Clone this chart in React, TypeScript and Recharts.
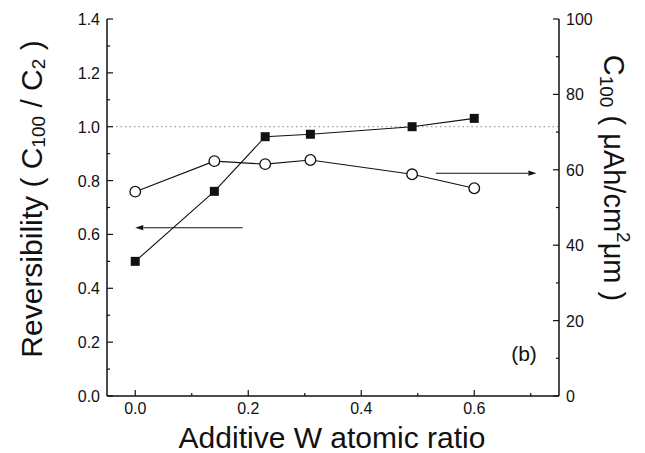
import { ComposedChart, Line, XAxis, YAxis, ReferenceLine, Label } from "recharts"

// values (b)
const W_RATIO = [0.0, 0.14, 0.23, 0.31, 0.49, 0.6]
const REVERSIBILITY = [0.5, 0.76, 0.963, 0.972, 1.0, 1.031]
const C100 = [54.2, 62.3, 61.5, 62.6, 58.8, 55.1]

const X_TICKS = [0, 0.1, 0.2, 0.3, 0.4, 0.5, 0.6, 0.7]
const LEFT_TICKS = [0, 0.1, 0.2, 0.3, 0.4, 0.5, 0.6, 0.7, 0.8, 0.9, 1.0, 1.1, 1.2, 1.3, 1.4]
const RIGHT_TICKS = [0, 10, 20, 30, 40, 50, 60, 70, 80, 90, 100]

// arrows pointing at the axis each series belongs to
const LEFT_ARROW = [
  { x: 0.19, y: 0.625 },
  { x: 0.0, y: 0.625 },
]
const RIGHT_ARROW = [
  { x: 0.532, y: 59.1 },
  { x: 0.71, y: 59.1 },
]

const DATA = W_RATIO.map((x, i) => ({ x, rev: REVERSIBILITY[i], cap: C100[i] }))

const INK = "#111"
const FONT = "'Liberation Sans', Arial, Helvetica, sans-serif"
const TICK_TEXT = { fontFamily: FONT, fontSize: 16, fill: INK }
const TITLE = 30
const SUB = 19

const isMajor = (v: number, step: number) =>
  Math.abs(v / step - Math.round(v / step)) < 1e-6

function xTick(labels: boolean, dir: 1 | -1) {
  return (p: any) => {
    const v = p.payload.value
    const major = isMajor(v, 0.2)
    return (
      <g>
        <line x1={p.x} y1={p.y} x2={p.x} y2={p.y - dir * (major ? 6 : 3)} stroke={INK} strokeWidth={1.2} />
        {labels && major && (
          <text x={p.x} y={p.y + 18} textAnchor="middle" {...TICK_TEXT}>
            {v.toFixed(1)}
          </text>
        )}
      </g>
    )
  }
}

const leftTick = (p: any) => {
  const v = p.payload.value
  const major = isMajor(v, 0.2)
  return (
    <g>
      <line x1={p.x} y1={p.y} x2={p.x + (major ? 6 : 3)} y2={p.y} stroke={INK} strokeWidth={1.2} />
      {major && (
        <text x={p.x - 7} y={p.y + 6} textAnchor="end" {...TICK_TEXT}>
          {v.toFixed(1)}
        </text>
      )}
    </g>
  )
}

const rightTick = (p: any) => {
  const v = p.payload.value
  const major = isMajor(v, 20)
  return (
    <g>
      <line x1={p.x} y1={p.y} x2={p.x - (major ? 6 : 3)} y2={p.y} stroke={INK} strokeWidth={1.2} />
      {major && (
        <text x={p.x + 7} y={p.y + 6} textAnchor="start" {...TICK_TEXT}>
          {v}
        </text>
      )}
    </g>
  )
}

const squareDot = (p: any) => (
  <rect key={`sq-${p.index}`} x={p.cx - 4.5} y={p.cy - 4.5} width={9} height={9} fill={INK} />
)

const arrowShape = (p: any) => {
  const { x1, y1, x2, y2 } = p
  const a = Math.atan2(y2 - y1, x2 - x1)
  const L = 8
  const W = 2.6
  const bx = x2 - L * Math.cos(a)
  const by = y2 - L * Math.sin(a)
  const pts = `${x2},${y2} ${bx + W * Math.sin(a)},${by - W * Math.cos(a)} ${bx - W * Math.sin(a)},${by + W * Math.cos(a)}`
  return (
    <g>
      <line x1={x1} y1={y1} x2={bx} y2={by} stroke={INK} strokeWidth={1.1} />
      <polygon points={pts} fill={INK} />
    </g>
  )
}

const leftTitle = () => (
  <text
    transform="translate(31,199) rotate(-90)"
    textAnchor="middle"
    dominantBaseline="central"
    fontFamily={FONT}
    fontSize={TITLE}
    fill={INK}
  >
    Reversibility ( C
    <tspan fontSize={SUB} dy={7}>100</tspan>
    <tspan dy={-7}> / C</tspan>
    <tspan fontSize={SUB} dy={7}>2</tspan>
    <tspan dy={-7}> )</tspan>
  </text>
)

const rightTitle = () => (
  <text
    transform="translate(614,178) rotate(90)"
    textAnchor="middle"
    dominantBaseline="central"
    fontFamily={FONT}
    fontSize={TITLE - 1}
    fill={INK}
  >
    C
    <tspan fontSize={SUB} dy={7}>100</tspan>
    <tspan dy={-7}> ( μAh/cm</tspan>
    <tspan fontSize={SUB} dy={-10}>2</tspan>
    <tspan dy={10}>μm )</tspan>
  </text>
)

const panelTag = () => (
  <text x={524} y={361} textAnchor="middle" fontFamily={FONT} fontSize={21} fill={INK}>
    (b)
  </text>
)

const bottomTitle = () => (
  <text x={332} y={448} textAnchor="middle" fontFamily={FONT} fontSize={TITLE} fill={INK}>
    Additive W atomic ratio
  </text>
)

export default function App() {
  return (
    <div style={{ position: "absolute", left: 0, top: 0, width: 645, height: 453, background: "#fff" }}>
      <ComposedChart
        width={645}
        height={453}
        data={DATA}
        margin={{ top: 19, right: 26, left: 47, bottom: 17 }}
      >
        <XAxis
          xAxisId="bottom"
          dataKey="x"
          type="number"
          domain={[-0.05, 0.75]}
          allowDataOverflow
          ticks={X_TICKS}
          interval={0}
          tickSize={0}
          tickMargin={0}
          tickLine={false}
          tick={xTick(true, 1)}
          height={40}
          axisLine={{ stroke: INK, strokeWidth: 1.5 }}
        >
          <Label content={bottomTitle} />
        </XAxis>
        <XAxis
          xAxisId="top"
          orientation="top"
          dataKey="x"
          type="number"
          domain={[-0.05, 0.75]}
          allowDataOverflow
          ticks={X_TICKS}
          interval={0}
          tickSize={0}
          tickMargin={0}
          tickLine={false}
          tick={xTick(false, -1)}
          height={0}
          axisLine={{ stroke: INK, strokeWidth: 1.5 }}
        />
        <YAxis
          yAxisId="left"
          type="number"
          domain={[0, 1.4]}
          allowDataOverflow
          ticks={LEFT_TICKS}
          interval={0}
          tickSize={0}
          tickMargin={0}
          tickLine={false}
          tick={leftTick}
          width={60}
          axisLine={{ stroke: INK, strokeWidth: 1.5 }}
        >
          <Label content={leftTitle} />
        </YAxis>
        <YAxis
          yAxisId="right"
          orientation="right"
          type="number"
          domain={[0, 100]}
          allowDataOverflow
          ticks={RIGHT_TICKS}
          interval={0}
          tickSize={0}
          tickMargin={0}
          tickLine={false}
          tick={rightTick}
          width={60}
          axisLine={{ stroke: INK, strokeWidth: 1.5 }}
        >
          <Label content={rightTitle} />
          <Label content={panelTag} />
        </YAxis>

        <ReferenceLine
          xAxisId="bottom"
          yAxisId="left"
          y={1.0}
          stroke="#8a8a8a"
          strokeWidth={1}
          strokeDasharray="1.5 3"
        />
        <ReferenceLine
          xAxisId="bottom"
          yAxisId="left"
          segment={LEFT_ARROW}
          shape={arrowShape}
        />
        <ReferenceLine
          xAxisId="bottom"
          yAxisId="right"
          segment={RIGHT_ARROW}
          shape={arrowShape}
        />

        <Line
          xAxisId="bottom"
          yAxisId="left"
          dataKey="rev"
          stroke={INK}
          strokeWidth={1.1}
          dot={squareDot}
          activeDot={false}
          isAnimationActive={false}
        />
        <Line
          xAxisId="bottom"
          yAxisId="right"
          dataKey="cap"
          stroke={INK}
          strokeWidth={1.1}
          dot={{ r: 5.3, fill: "#fff", stroke: INK, strokeWidth: 1.3 }}
          activeDot={false}
          isAnimationActive={false}
        />
      </ComposedChart>
    </div>
  )
}
